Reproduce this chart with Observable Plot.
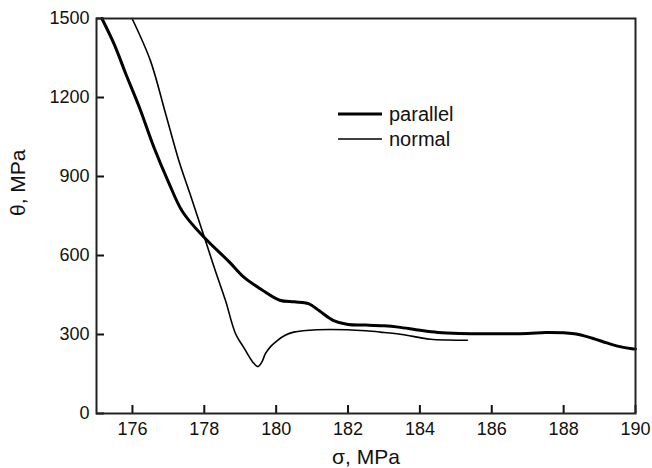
<!DOCTYPE html>
<html><head><meta charset="utf-8">
<script src="https://cdn.jsdelivr.net/npm/d3@7"></script>
<script src="https://cdn.jsdelivr.net/npm/@observablehq/plot@0.6"></script>
<style>
body{margin:0;background:#fff;}
#wrap{position:relative;width:652px;height:468px;font-family:"Liberation Sans",Arial,Helvetica,sans-serif;}
.leg{position:absolute;left:338px;display:flex;align-items:center;font-size:20px;color:#111;height:24px;}
.leg svg{margin-right:7px;}
</style>
</head><body><div id="wrap"></div>
<script>
const xTicks = [176, 178, 180, 182, 184, 186, 188, 190];
const yTicks = [0, 300, 600, 900, 1200, 1500];
const seriesNames = ["parallel", "normal"];

const parallelX = [175.15,175.5,175.8,176.2,176.6,177.0,177.4,178.0,178.7,179.1,179.6,180.1,180.5,180.9,181.2,181.6,182.0,182.5,183.0,183.4,184.0,184.5,185.1,186.0,187.0,187.5,188.3,188.8,189.2,189.5,189.9,190.0];
const parallelY = [1500,1400,1295,1160,1010,880,765,668,575,518,470,430,424,417,390,353,338,336,333,328,316,308,304,303,304,308,303,286,268,256,246,245];

const normalX = [175.99,176.5,176.9,177.29,177.6,178.0,178.3,178.59,178.87,179.1,179.35,179.49,179.6,179.7,179.85,180.03,180.25,180.49,181.14,181.98,182.5,182.9,183.5,184.0,184.3,184.8,185.32];
const normalY = [1500,1340,1150,961,835,670,545,429,303,250,195,178,195,227,255,277,297,309,318,318,314,309,300,288,282,279,278];

const parallel = parallelX.map((x, i) => ({x, y: parallelY[i]}));
const normal = normalX.map((x, i) => ({x, y: normalY[i]}));

const chart = Plot.plot({
  width: 652, height: 468,
  marginLeft: 96, marginRight: 17, marginTop: 18, marginBottom: 55,
  style: {fontFamily: "Liberation Sans, Arial, Helvetica, sans-serif", fontSize: "18px", color: "#111", background: "#fff", overflow: "visible"},
  x: {domain: [175, 190]},
  y: {domain: [0, 1500]},
  marks: [
    Plot.line(parallel, {x: "x", y: "y", stroke: "#000", strokeWidth: 3, curve: "catmull-rom"}),
    Plot.line(normal, {x: "x", y: "y", stroke: "#000", strokeWidth: 1.6, curve: "catmull-rom"}),
    Plot.axisX({ticks: xTicks, tickSize: -8, tickPadding: 17, strokeWidth: 2, label: null, tickFormat: d => String(d)}),
    Plot.axisY({ticks: yTicks, tickSize: -8, tickPadding: 15, strokeWidth: 2, label: null, tickFormat: d => String(d)}),
    Plot.frame({stroke: "#222", strokeWidth: 2}),
    Plot.text(["σ, MPa"], {frameAnchor: "bottom", dy: 44, lineAnchor: "middle", text: d => d, fontSize: 21}),
    Plot.text(["θ, MPa"], {frameAnchor: "left", dx: -78, rotate: -90, lineAnchor: "middle", text: d => d, fontSize: 21})
  ]
});
const wrap = document.getElementById("wrap");
wrap.appendChild(chart);

const legTops = [102, 127];
const legWidths = [3, 1.6];
seriesNames.forEach((name, i) => {
  const d = document.createElement("div");
  d.className = "leg";
  d.style.top = legTops[i] + "px";
  d.innerHTML = `<svg width="44" height="6"><line x1="0" x2="44" y1="3" y2="3" stroke="#000" stroke-width="${legWidths[i]}"/></svg><span>${name}</span>`;
  wrap.appendChild(d);
});
</script>
</body></html>
